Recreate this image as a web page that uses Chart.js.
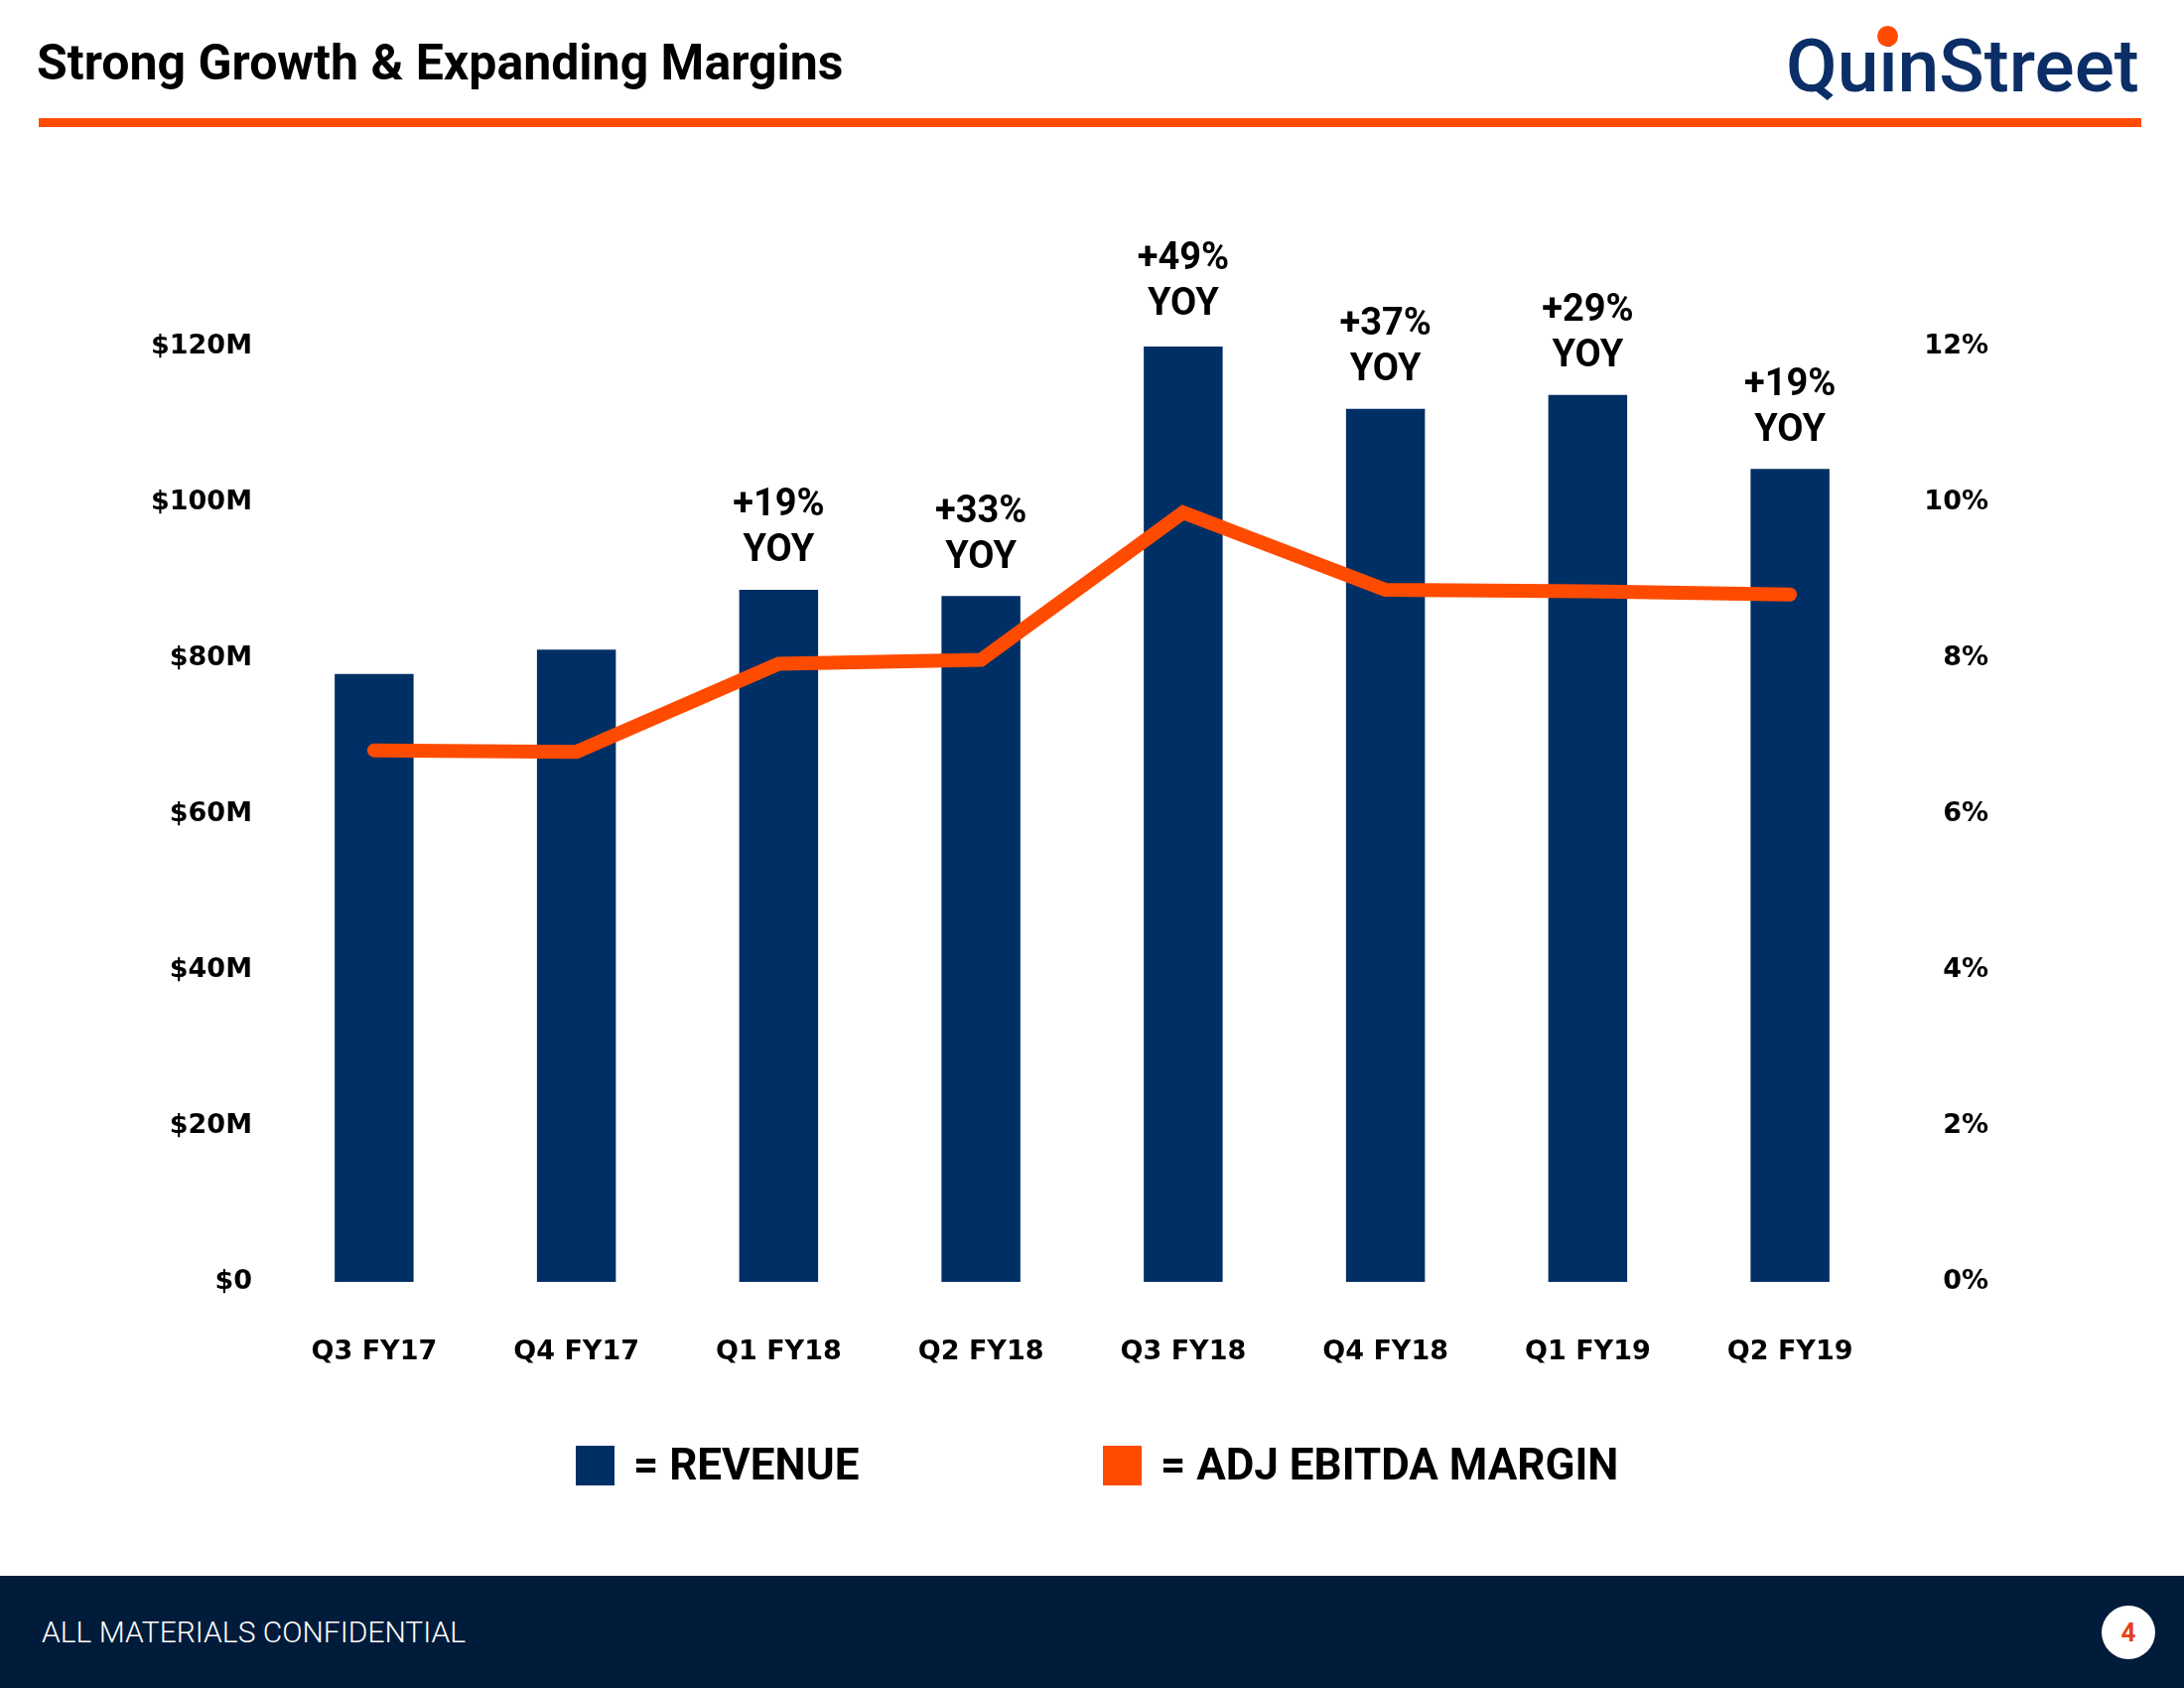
<!DOCTYPE html>
<html>
<head>
<meta charset="utf-8">
<script src="https://cdn.jsdelivr.net/npm/chart.js@4.4.1/dist/chart.umd.min.js"></script>
<style>
  html, body { margin:0; padding:0; background:#fff; }
  body { width:2200px; height:1700px; position:relative; overflow:hidden; font-family: Roboto, "Noto Sans", sans-serif; }
  #wrap { position:absolute; left:0; top:0; width:2200px; height:1700px; }
  .abs { position:absolute; white-space:nowrap; }
  #title { left:37px; top:38px; font-size:50px; line-height:50px; font-weight:700; color:#000; }
  #rule { left:39px; top:119px; width:2118px; height:9px; background:#FF4B00; }
  #logo { left:1799px; top:29px; font-size:75px; line-height:75px; font-weight:500; color:#0B2E66; }
  #logo .i { position:relative; display:inline-block; }
  #logo .i::after { content:""; position:absolute; left:50%; top:-3px; width:21px; height:21px; margin-left:-10.5px; border-radius:50%; background:#FF4B00; }
  #logo .cover { position:absolute; left:50%; top:-6px; width:16px; height:22px; margin-left:-8px; background:#fff; }
  #footer { left:0; top:1587px; width:2200px; height:113px; background:#011C3A; }
  #conf { left:42px; top:1629px; font-size:30px; line-height:30px; font-weight:300; color:#fff; }
  #pg { left:2117px; top:1617px; width:54px; height:54px; border-radius:50%; background:#fff; color:#E8401C; font-weight:700; font-size:26px; line-height:54px; text-align:center; }
  .sq { position:absolute; width:39px; height:40px; top:1456px; }
  .lt { font-size:44px; line-height:44px; font-weight:700; color:#000; top:1453px; }
</style>
</head>
<body>
<script>
// ---- data ----
const categories = ["Q3 FY17","Q4 FY17","Q1 FY18","Q2 FY18","Q3 FY18","Q4 FY18","Q1 FY19","Q2 FY19"];
const revenueM = [78.0, 81.1, 88.8, 88.0, 120.4, 112.0, 113.8, 104.3];
const ebitdaMarginPct = [6.82, 6.80, 7.93, 7.98, 9.87, 8.88, 8.86, 8.82];
const yoyGrowth = ["", "", "+19%", "+33%", "+49%", "+37%", "+29%", "+19%"];
const leftTickLabels = ["$0","$20M","$40M","$60M","$80M","$100M","$120M"];
const rightTickLabels = ["0%","2%","4%","6%","8%","10%","12%"];
</script>

<div id="wrap"><canvas id="c"></canvas></div>

<div class="abs" id="title">Strong Growth &amp; Expanding Margins</div>
<div class="abs" id="rule"></div>
<div class="abs" id="logo">Qu<span class="i"><span class="cover"></span>i</span>nStreet</div>

<div class="sq" style="left:580px; background:#002F65;"></div>
<div class="abs lt" style="left:638px;">= REVENUE</div>
<div class="sq" style="left:1111px; background:#FF4B00;"></div>
<div class="abs lt" style="left:1169px;">= ADJ EBITDA MARGIN</div>

<div class="abs" id="footer"></div>
<div class="abs" id="conf">ALL MATERIALS CONFIDENTIAL</div>
<div class="abs" id="pg">4</div>

<script>
const NAVY = "#002F65";
const ORANGE = "#FF4B00";
const tickFont = { family: "'DejaVu Sans'", weight: "bold", size: 27 };

const yoyPlugin = {
  id: "yoy",
  afterDatasetsDraw(chart) {
    const meta = chart.getDatasetMeta(0);
    const ctx = chart.ctx;
    ctx.save();
    ctx.fillStyle = "#000";
    ctx.font = "bold 38px Roboto";
    ctx.textAlign = "center";
    ctx.textBaseline = "middle";
    meta.data.forEach((bar, i) => {
      const t = yoyGrowth[i];
      if (!t) return;
      ctx.fillText(t, bar.x, bar.y - 84);
      ctx.fillText("YOY", bar.x, bar.y - 38);
    });
    ctx.restore();
  }
};

new Chart(document.getElementById("c"), {
  data: {
    labels: categories,
    datasets: [
      {
        type: "bar",
        label: "REVENUE",
        data: revenueM,
        backgroundColor: NAVY,
        yAxisID: "y",
        categoryPercentage: 1.0,
        barPercentage: 0.39,
        order: 2
      },
      {
        type: "line",
        label: "ADJ EBITDA MARGIN",
        data: ebitdaMarginPct,
        borderColor: ORANGE,
        backgroundColor: ORANGE,
        borderWidth: 14,
        borderCapStyle: "round",
        borderJoinStyle: "miter",
        pointRadius: 0,
        tension: 0,
        yAxisID: "y1",
        order: 1
      }
    ]
  },
  options: {
    responsive: true,
    maintainAspectRatio: false,
    devicePixelRatio: 1,
    animation: false,
    layout: { padding: { left: 0, right: 197, top: 349, bottom: 309 } },
    plugins: { legend: { display: false }, tooltip: { enabled: false } },
    scales: {
      x: {
        grid: { display: false, drawTicks: false },
        border: { display: false },
        ticks: { color: "#000", font: tickFont, padding: 55, maxRotation: 0 },
        afterFit(s) { s.height = 100; }
      },
      y: {
        position: "left",
        min: 0, max: 120,
        grid: { display: false, drawTicks: false },
        border: { display: false },
        ticks: {
          stepSize: 20, color: "#000", font: tickFont, padding: 21,
          callback: (v, i) => leftTickLabels[i]
        },
        afterFit(s) { s.width = 275; }
      },
      y1: {
        position: "right",
        min: 0, max: 12,
        grid: { display: false, drawTicks: false },
        border: { display: false },
        ticks: {
          stepSize: 2, color: "#000", font: tickFont, crossAlign: "far",
          callback: (v, i) => rightTickLabels[i]
        },
        afterFit(s) { s.width = 98; }
      }
    }
  },
  plugins: [yoyPlugin]
});
</script>
</body>
</html>
